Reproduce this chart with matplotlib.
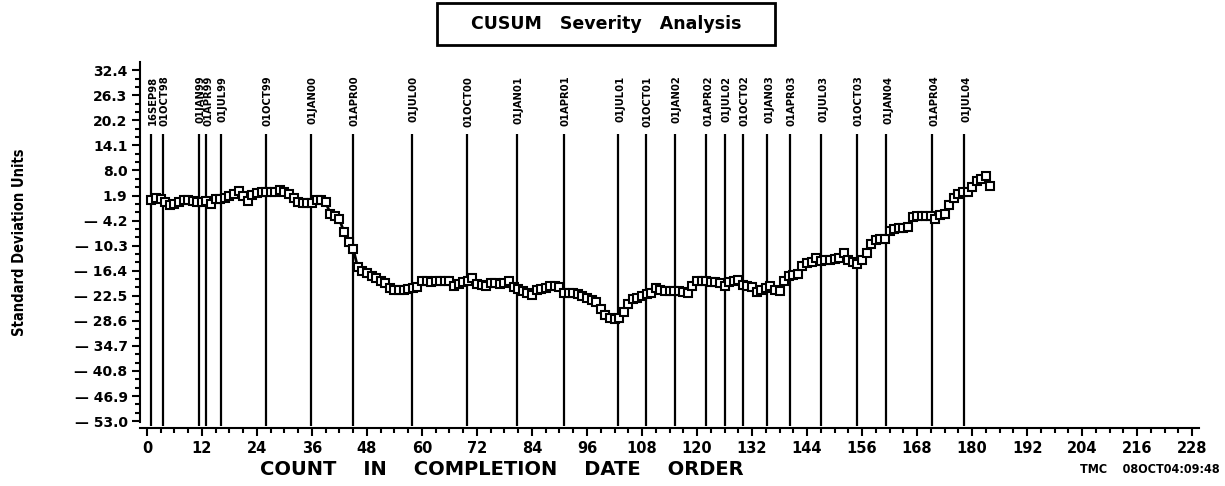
import numpy as np
import pandas as pd
import matplotlib
matplotlib.use('Agg')
import matplotlib.pyplot as plt
import matplotlib.transforms as mtransforms
from matplotlib.patches import Rectangle

#valores del CUSUM, uno por trabajo en orden de fecha
cusum = [0.8, 1.2, 1.1, 0.3, -0.3, -0.2, 0.3, 0.7, 0.9, 0.6,
         0.4, 0.3, 0.5, -0.1, 1.0, 1.1, 1.3, 1.9, 2.3, 3.0,
         1.9, 0.5, 2.0, 2.5, 2.8, 2.7, 2.8, 2.7, 3.3, 2.8,
         2.2, 1.4, 0.4, 0.0, 0.0, 0.2, 0.8, 0.8, 0.3, -2.5,
         -3.0, -3.9, -7.0, -9.5, -11.1, -15.6, -16.4, -17.0, -17.6, -18.2,
         -18.8, -19.5, -20.6, -21.0, -21.2, -21.0, -20.8, -20.6, -20.4, -18.9,
         -19.0, -19.2, -19.0, -18.9, -19.0, -18.8, -20.0, -19.6, -19.2, -19.0,
         -18.2, -19.6, -19.8, -20.1, -19.4, -19.5, -19.7, -19.4, -18.8, -20.4,
         -20.8, -21.3, -21.8, -22.4, -21.2, -20.9, -20.6, -20.2, -20.1, -20.4,
         -21.8, -21.9, -21.7, -22.0, -22.6, -23.0, -23.6, -24.0, -25.6, -27.2,
         -27.8, -28.2, -27.8, -26.4, -24.4, -23.4, -23.0, -22.6, -22.0, -21.8,
         -20.6, -21.2, -21.4, -21.3, -21.4, -21.3, -21.5, -21.7, -20.2, -19.0,
         -18.9, -19.0, -19.1, -19.2, -19.4, -20.0, -19.2, -18.8, -18.7, -19.8,
         -20.2, -20.3, -21.6, -21.0, -20.6, -20.2, -21.0, -21.3, -18.8, -17.7,
         -17.5, -17.3, -15.3, -14.5, -14.2, -13.3, -14.0, -13.8, -13.7, -13.5,
         -13.2, -12.0, -13.8, -14.3, -14.8, -13.7, -12.0, -10.0, -8.8, -8.7,
         -8.6, -6.7, -6.3, -6.1, -5.9, -5.7, -3.4, -3.1, -3.0, -3.0,
         -3.0, -3.8, -2.8, -2.6, -0.5, 1.4, 2.3, 2.7, 2.8, 3.9,
         5.5, 5.9, 6.6, 4.3]
count = np.arange(1, len(cusum) + 1)

#fechas de referencia (lineas verticales)
date_labels = ['16SEP98', '01OCT98', '01JAN99', '01APR99', '01JUL99', '01OCT99',
               '01JAN00', '01APR00', '01JUL00', '01OCT00', '01JAN01', '01APR01',
               '01JUL01', '01OCT01', '01JAN02', '01APR02', '01JUL02', '01OCT02',
               '01JAN03', '01APR03', '01JUL03', '01OCT03', '01JAN04', '01APR04',
               '01JUL04']
date_pos = [0.9, 3.5, 11.4, 13.0, 16.1, 25.9, 35.8, 44.9, 57.8, 69.8, 80.7, 91.0,
            102.8, 108.9, 115.2, 122.0, 126.1, 130.0, 135.3, 140.3, 147.1, 154.9,
            161.3, 171.3, 178.3]

y_ticks = [32.4, 26.3, 20.2, 14.1, 8.0, 1.9, -4.2, -10.3, -16.4, -22.5,
           -28.6, -34.7, -40.8, -46.9, -53.0]
x_ticks = list(range(0, 229, 12))

df = pd.DataFrame({'count': count, 'cusum': cusum})

narrow = dict(family='DejaVu Sans', fontstretch='condensed', fontweight='bold')

fig = plt.figure(figsize=(12.25, 4.86), dpi=100)
ax = fig.add_axes([0.1143, 0.1327, 0.8645, 0.7397])

#serie
ax.plot(df['count'], df['cusum'], color='black', lw=2, marker='s', ms=5.5,
        mfc='white', mec='black', mew=1.5, zorder=3)

#lineas de fechas
ax.vlines(date_pos, -54.2, 17.0, colors='black', lw=1.6, clip_on=False, zorder=2)
trans = mtransforms.blended_transform_factory(ax.transData, ax.transAxes)
for p, lab in zip(date_pos, date_labels):
    ax.text(p + 0.4, 0.962, lab, rotation=90, ha='center', va='top',
            transform=trans, fontsize=8, **narrow)

ax.set_xlim(-1.5, 229.5)
ax.set_ylim(-53.1, 34.4)

#ejes estilo SAS
for s in ['top', 'right']:
    ax.spines[s].set_visible(False)
ax.spines['bottom'].set_position(('outward', 5))
ax.spines['left'].set_linewidth(1.5)
ax.spines['bottom'].set_linewidth(1.5)

ax.set_xticks(x_ticks)
ax.set_xticks(np.arange(0, 229, 3), minor=True)
ax.set_xticklabels([str(v) for v in x_ticks], fontsize=10.5, fontweight='bold')
ax.set_yticks(y_ticks)
minor_y = [v - k * 6.1 / 3 for v in y_ticks[:-1] for k in (1, 2)]
ax.set_yticks(minor_y, minor=True)
ax.set_yticklabels([('\u2014 ' + '%.1f' % abs(v)) if v < 0 else '%.1f' % v for v in y_ticks],
                   fontsize=10, fontweight='bold')
ax.tick_params(axis='both', which='major', length=6, width=1.5, direction='out', pad=3)
ax.tick_params(axis='both', which='minor', length=3.5, width=1.5, direction='out')

ax.set_ylabel('Standard Deviation Units', fontsize=10.5, labelpad=34, **narrow)

fig.text(0.41, 0.033, 'COUNT    IN    COMPLETION    DATE    ORDER', ha='center', va='center',
         fontsize=14, fontweight='bold')
fig.text(0.882, 0.033, 'TMC    08OCT04:09:48', ha='left', va='center',
         fontsize=9, **narrow)

#titulo en recuadro
fig.patches.append(Rectangle((437 / 1225, 1 - 45 / 486), (775 - 437) / 1225, 42 / 486,
                             transform=fig.transFigure, fill=False, lw=2, ec='black'))
fig.text(606 / 1225, 1 - 24 / 486, 'CUSUM   Severity   Analysis', ha='center', va='center',
         fontsize=12.5, fontweight='bold')

plt.savefig('out.png', dpi=100)
